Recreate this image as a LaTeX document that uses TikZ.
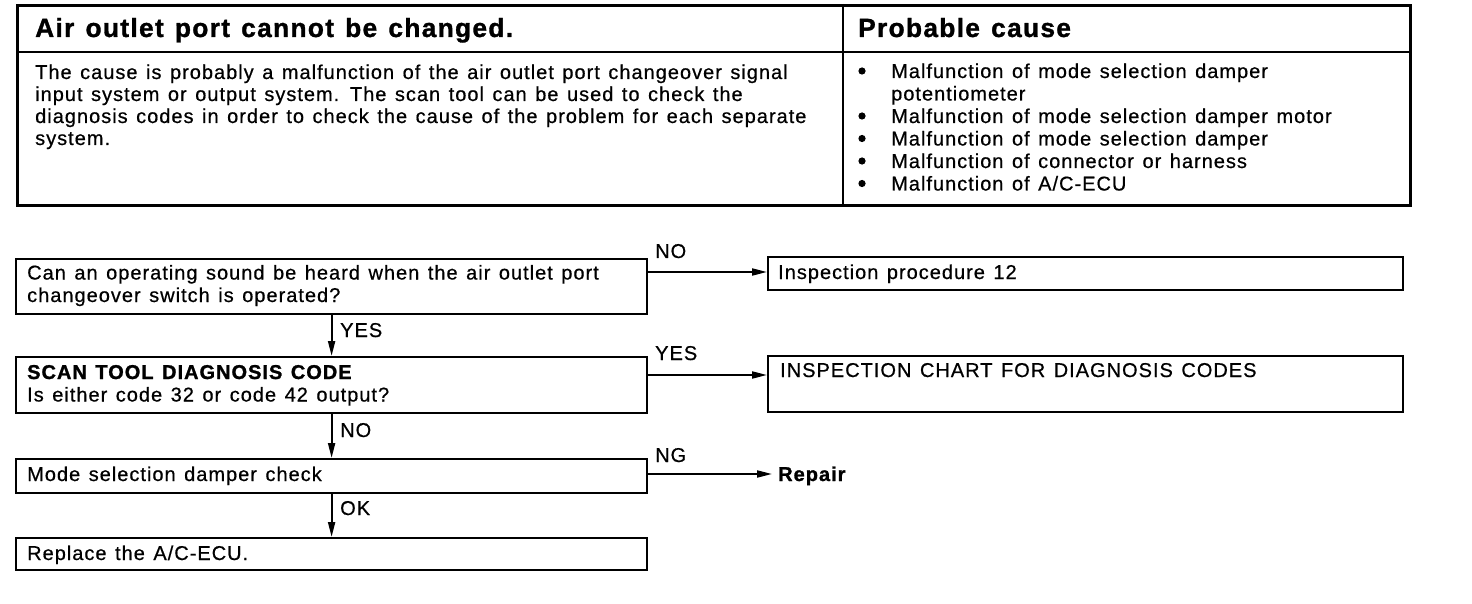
\documentclass[tikz,border=0pt]{standalone}
\usepackage{fontspec}
\setmainfont{Liberation Sans}[LetterSpace=5,WordSpace=1.3,UprightFeatures={FakeBold=0.6},BoldFeatures={FakeBold=1.2}]
\usetikzlibrary{arrows.meta,calc}
\begin{document}
\begin{tikzpicture}[x=1pt,y=-1pt,
  frame/.style={draw, line width=2.8pt, rectangle, inner sep=0pt, anchor=north west},
  box/.style={draw, line width=2.2pt, rectangle, inner sep=0pt, anchor=north west},
  hdr/.style={anchor=base west, inner sep=0pt, font=\fontsize{26.3}{30}\selectfont\bfseries},
  txt/.style={anchor=base west, inner sep=0pt, align=left, font=\fontsize{20}{22.5}\selectfont},
  lbl/.style={anchor=base west, inner sep=0pt, font=\fontsize{20}{22}\selectfont},
  dot/.style={fill=black},
  arr/.style={line width=2pt, -{Triangle[length=15pt,width=7pt]}}]
\useasboundingbox (0,0) rectangle (1472,604);

% ---- table ----
\node[frame, minimum width=1393pt, minimum height=200pt] (tbl) at (16,4) {};
\coordinate (hs) at (0,52);
\coordinate (cd) at (843,0);
\draw[line width=2.2pt] (tbl.west |- hs) -- (tbl.east |- hs);
\draw[line width=1.5pt] (cd |- tbl.north) -- (cd |- tbl.south);
\node[hdr] (h1) at (35,37) {Air outlet port cannot be changed.};
\node[hdr] (h2) at (858,37) {Probable cause};
\node[txt, font=\fontsize{20}{22}\selectfont] (desc) at (35,145) {The cause is probably a malfunction of the air outlet port changeover signal\\
input system or output system. The scan tool can be used to check the\\
diagnosis codes in order to check the cause of the problem for each separate\\
system.};
\node[txt] (causes) at (891,190.5) {Malfunction of mode selection damper\\
potentiometer\\
Malfunction of mode selection damper motor\\
Malfunction of mode selection damper\\
Malfunction of connector or harness\\
Malfunction of A/C-ECU};
\foreach \yy in {78,123,145.5,168,190.5}{
  \fill[dot] (862,\yy-7) circle (3.6);
}

% ---- flow boxes ----
\node[box, minimum width=631pt, minimum height=55pt] (q1) at (15,258) {};
\node[box, minimum width=635pt, minimum height=33pt] (ip) at (767,256) {};
\node[box, minimum width=631pt, minimum height=56pt] (q2) at (15,356) {};
\node[box, minimum width=635pt, minimum height=56pt] (ic) at (767,355) {};
\node[box, minimum width=631pt, minimum height=34pt] (q3) at (15,458) {};
\node[box, minimum width=631pt, minimum height=32pt] (rp) at (15,537) {};

\node[txt] (t1) at (27,302) {Can an operating sound be heard when the air outlet port\\changeover switch is operated?};
\node[txt] (t2) at (778,279) {Inspection procedure 12};
\node[txt] (t3) at (27,401.5) {\textbf{SCAN TOOL DIAGNOSIS CODE}\\Is either code 32 or code 42 output?};
\node[txt] (t4) at (780,377) {INSPECTION CHART FOR DIAGNOSIS CODES};
\node[txt] (t5) at (27,481) {Mode selection damper check};
\node[txt] (t6) at (27,560) {Replace the A/C-ECU.};
\node[txt, font=\fontsize{20}{22}\selectfont\bfseries] (rep) at (778,481) {Repair};

% ---- connectors ----
\coordinate (a1) at ($(q1.north east)+(0,14)$);
\draw[arr] (a1) -- (a1 -| ip.west);
\coordinate (a2) at ($(q2.north east)+(0,19)$);
\draw[arr] (a2) -- (a2 -| ic.west);
\coordinate (a3) at ($(q3.north east)+(0,16)$);
\coordinate (a3e) at ($(rep.west)+(-6,0)$);
\draw[arr] (a3) -- (a3 -| a3e);
\draw[arr] (q1.south) -- (q2.north);
\draw[arr] (q2.south) -- (q3.north);
\draw[arr] (q3.south) -- (rp.north);

% ---- labels ----
\node[lbl] (l1) at (655,258) {NO};
\node[lbl] (l2) at (340,337) {YES};
\node[lbl] (l3) at (655,360) {YES};
\node[lbl] (l4) at (340,437) {NO};
\node[lbl] (l5) at (655,462) {NG};
\node[lbl] (l6) at (340,515) {OK};
\end{tikzpicture}
\end{document}
